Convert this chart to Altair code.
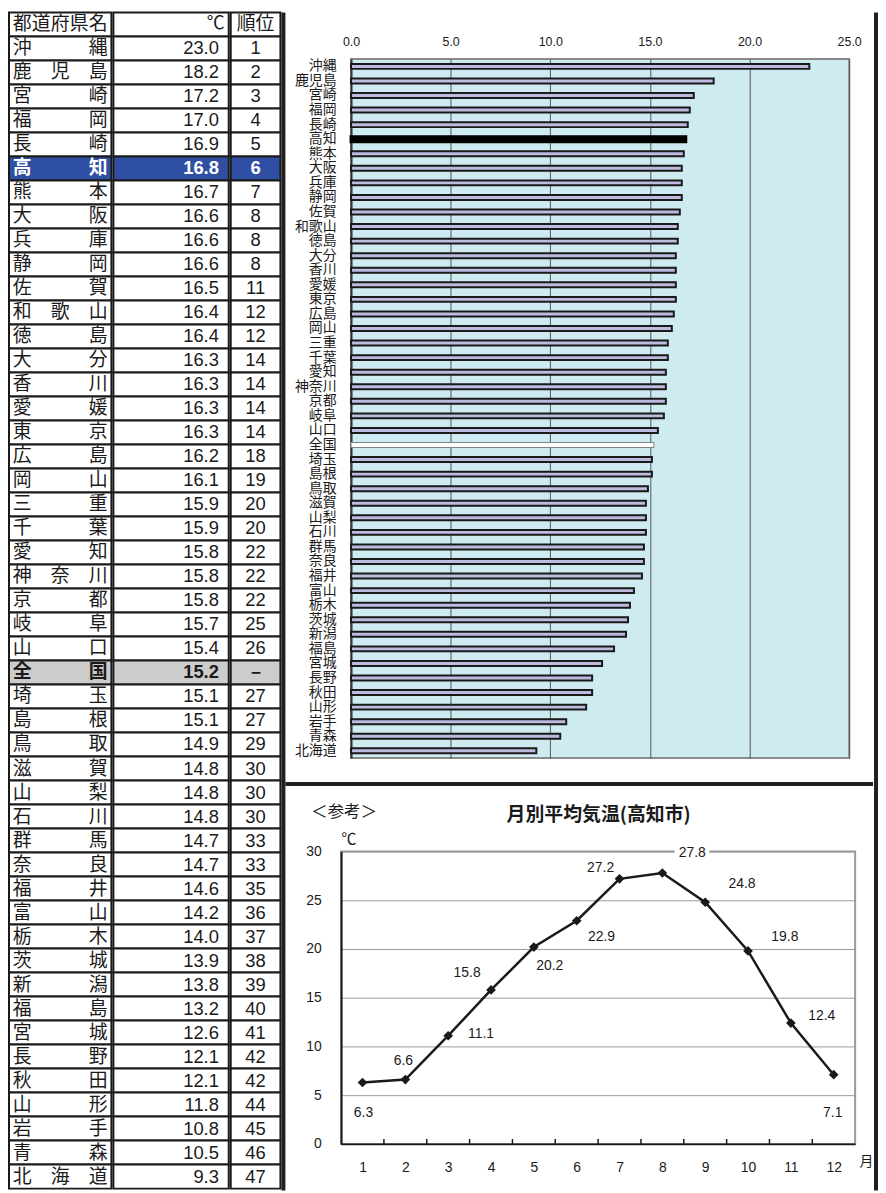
import altair as alt
import pandas as pd

# ---------------- data ----------------
prefs = ["沖縄", "鹿児島", "宮崎", "福岡", "長崎", "高知", "熊本", "大阪", "兵庫", "静岡",
         "佐賀", "和歌山", "徳島", "大分", "香川", "愛媛", "東京", "広島", "岡山", "三重",
         "千葉", "愛知", "神奈川", "京都", "岐阜", "山口", "全国", "埼玉", "島根", "鳥取",
         "滋賀", "山梨", "石川", "群馬", "奈良", "福井", "富山", "栃木", "茨城", "新潟",
         "福島", "宮城", "長野", "秋田", "山形", "岩手", "青森", "北海道"]
temps = [23.0, 18.2, 17.2, 17.0, 16.9, 16.8, 16.7, 16.6, 16.6, 16.6,
         16.5, 16.4, 16.4, 16.3, 16.3, 16.3, 16.3, 16.2, 16.1, 15.9,
         15.9, 15.8, 15.8, 15.8, 15.7, 15.4, 15.2, 15.1, 15.1, 14.9,
         14.8, 14.8, 14.8, 14.7, 14.7, 14.6, 14.2, 14.0, 13.9, 13.8,
         13.2, 12.6, 12.1, 12.1, 11.8, 10.8, 10.5, 9.3]
ranks = ["1", "2", "3", "4", "5", "6", "7", "8", "8", "8",
         "11", "12", "12", "14", "14", "14", "14", "18", "19", "20",
         "20", "22", "22", "22", "25", "26", "－", "27", "27", "29",
         "30", "30", "30", "33", "33", "35", "36", "37", "38", "39",
         "40", "41", "42", "42", "44", "45", "46", "47"]
header_name = "都道府県名"
header_value = "℃"
header_rank = "順位"

bar_ticks = [0, 5, 10, 15, 20, 25]

months = list(range(1, 13))
kochi_monthly = [6.3, 6.6, 11.1, 15.8, 20.2, 22.9, 27.2, 27.8, 24.8, 19.8, 12.4, 7.1]
line_ticks = [0, 5, 10, 15, 20, 25, 30]
line_title = "月別平均気温(高知市)"
ref_note = "＜参考＞"

HIGHLIGHT = "高知"
NATIONAL = "全国"
HALO_MONTH = 8  # label that sits on the top border with a white background

# ---------------- styles ----------------
JP = "Noto Sans CJK JP"
NUM = "Liberation Sans, Arial, sans-serif"
INK = "#1a1a1a"
FRAME = "#231f20"
LAV = "#bcbbe0"
PLOT_BG = "#cdebf0"

TABLE_H = 1183
COL_W = [103, 116, 50]
# per-month label offsets (dx, dy) in pixels
LABEL_OFFSETS = {1: (1, 31), 2: (-2, -19), 3: (33, -2), 4: (-24, -17), 5: (16, 19), 6: (25, 16),
                 7: (-19, -11), 8: (30, -20), 9: (37, -18), 10: (37, -14), 11: (31, -7), 12: (-1, 39)}


def blank(w, h, fill=None):
    view = alt.ViewBackground(fill=fill, strokeWidth=0) if fill else alt.ViewBackground(strokeWidth=0)
    return alt.Chart(pd.DataFrame({"v": [0]})).mark_rect(opacity=0).encode(
        x=alt.value(0), x2=alt.value(0), y=alt.value(0), y2=alt.value(0)
    ).properties(width=w, height=h, view=view)


# ---------------- table ----------------
kinds = ["header"] + ["kochi" if p == HIGHLIGHT else "national" if p == NATIONAL else "normal" for p in prefs]
rows = list(range(len(kinds)))
cells_df = pd.DataFrame({"row": rows, "kind": kinds})

row_y = alt.Y("row:O", scale=alt.Scale(domain=rows, paddingInner=0, paddingOuter=0), axis=None)
col_scale = alt.Scale(domain=[0, 1], nice=False, zero=False)
kind_dom = ["header", "normal", "kochi", "national"]
fill_scale = alt.Scale(domain=kind_dom, range=["#ffffff", "#ffffff", "#2e4fa3", "#cccccc"])
txt_scale = alt.Scale(domain=kind_dom, range=[INK, INK, "#ffffff", INK])


def table_column(text_df, width, align, head_font, head_size, body_font, body_size):
    cells = alt.Chart(cells_df).mark_rect(stroke=INK, strokeWidth=2).encode(
        y=row_y,
        x=alt.XDatum(0, type="quantitative", scale=col_scale, axis=None),
        x2=alt.datum(1),
        fill=alt.Fill("kind:N", scale=fill_scale, legend=None),
    )
    base = alt.Chart(text_df).encode(
        y=row_y,
        x=alt.X("pos:Q", scale=col_scale, axis=None),
        text="txt:N",
        color=alt.Color("kind:N", scale=txt_scale, legend=None),
    )
    head = base.transform_filter(alt.FieldEqualPredicate(field="kind", equal="header")).mark_text(
        align=align, baseline="middle", font=head_font, fontSize=head_size)
    plain = base.transform_filter(alt.FieldEqualPredicate(field="kind", equal="normal")).mark_text(
        align=align, baseline="middle", font=body_font, fontSize=body_size)
    bold = base.transform_filter(alt.FieldOneOfPredicate(field="kind", oneOf=["kochi", "national"])).mark_text(
        align=align, baseline="middle", font=body_font, fontSize=body_size, fontWeight="bold")
    return alt.layer(cells, head, plain, bold).properties(
        width=width, height=TABLE_H, view=alt.ViewBackground(strokeWidth=0))


# names: characters spread over the cell
name_recs = []
for r, label in enumerate([header_name] + prefs):
    n = len(label)
    for i, ch in enumerate(label):
        name_recs.append({"row": r, "pos": 0.13 + 0.74 * i / (n - 1), "txt": ch, "kind": kinds[r]})
name_df = pd.DataFrame(name_recs)

val_df = pd.DataFrame({
    "row": rows,
    "pos": [0.965] + [0.915] * len(temps),
    "txt": [header_value] + [f"{t:.1f}" for t in temps],
    "kind": kinds,
})
rank_df = pd.DataFrame({"row": rows, "pos": [0.5] * len(rows), "txt": [header_rank] + ranks, "kind": kinds})

name_col = table_column(name_df, COL_W[0], "center", JP, 19, JP, 19)
val_col = table_column(val_df, COL_W[1], "right", JP, 18, NUM, 18.5)
rank_col = table_column(rank_df, COL_W[2], "center", JP, 19, NUM, 18.5)
table = alt.hconcat(name_col, val_col, rank_col, spacing=0)

# ---------------- bar chart ----------------
bar_df = pd.DataFrame({"pref": prefs, "temp": temps, "kind": kinds[1:]})
bar_base = alt.Chart(bar_df).encode(
    y=alt.Y("pref:N", scale=alt.Scale(domain=prefs, paddingInner=0.66, paddingOuter=0.33),
            axis=alt.Axis(title=None, ticks=False, domain=True, domainColor="#333333", domainWidth=2,
                          labelFont=JP, labelFontSize=14, labelPadding=15, labelColor=INK,
                          labelOverlap=False, labelBaseline="middle")),
    x=alt.X("temp:Q", scale=alt.Scale(domain=[0, 25], nice=False, zero=True),
            axis=alt.Axis(orient="top", values=bar_ticks, format=".1f", title=None, ticks=False,
                          domain=False, grid=True, gridColor="#555555", gridWidth=1,
                          labelFont=NUM, labelFontSize=12.5, labelColor=INK, labelPadding=11,
                          labelFlush=False)),
)
bars_normal = bar_base.transform_filter(alt.FieldEqualPredicate(field="kind", equal="normal")).mark_bar(
    fill=LAV, stroke=INK, strokeWidth=2)
bars_kochi = bar_base.transform_filter(alt.FieldEqualPredicate(field="kind", equal="kochi")).mark_bar(
    fill="#000000", stroke="#000000", strokeWidth=3)
bars_nat = bar_base.transform_filter(alt.FieldEqualPredicate(field="kind", equal="national")).mark_bar(
    fill="#ffffff", stroke="#808080", strokeWidth=1)
bar_chart = alt.layer(bars_normal, bars_kochi, bars_nat).properties(
    width=501, height=703, view=alt.ViewBackground(fill=PLOT_BG, stroke="#8a8a8a", strokeWidth=2))

# ---------------- line chart ----------------
mdf = pd.DataFrame({"month": months, "temp": kochi_monthly})
lx = alt.X("month:Q", scale=alt.Scale(domain=[0.5, 12.5], nice=False, zero=False),
           axis=alt.Axis(values=months, format="d", ticks=False, grid=False, domainColor=INK, domainWidth=2,
                         labelFont=NUM, labelFontSize=14, labelColor=INK, labelPadding=17, labelFlush=False,
                         title="月", titleFont=JP, titleFontSize=14, titleFontWeight="normal", titleColor=INK,
                         titleAngle=0, titleX=521, titleY=18, titleAlign="left", titleBaseline="middle"))
ly = alt.Y("temp:Q", scale=alt.Scale(domain=[0, 30], nice=False),
           axis=alt.Axis(values=line_ticks, ticks=False, grid=True, gridColor="#9a9a9a", gridWidth=1,
                         domainColor=INK, domainWidth=2, labelFont=NUM, labelFontSize=14, labelColor=INK,
                         labelPadding=20, labelFlush=False,
                         title="℃", titleFont=JP, titleFontSize=15, titleFontWeight="normal", titleColor=INK,
                         titleAngle=0, titleX=0, titleY=-13, titleAlign="left", titleBaseline="middle"))

line = alt.Chart(mdf).mark_line(color=INK, strokeWidth=2.5).encode(x=lx, y=ly)
pts = alt.Chart(mdf).mark_point(shape="diamond", filled=True, color=INK, size=95, opacity=1).encode(
    x="month:Q", y="temp:Q")
bounds_df = pd.DataFrame({"b": [m + 0.5 for m in months[:-1]]})
inticks = alt.Chart(bounds_df).mark_rule(color=INK, strokeWidth=1.5).encode(
    x="b:Q", y=alt.datum(0), y2=alt.datum(0.5))

label_layers = []
for m, (dx, dy) in LABEL_OFFSETS.items():
    sel = alt.Chart(mdf).transform_filter(alt.datum.month == m)
    enc = dict(x="month:Q", y="temp:Q", text=alt.Text("temp:Q", format=".1f"))
    if m == HALO_MONTH:
        label_layers.append(sel.mark_text(
            dx=dx, dy=dy, font=NUM, fontSize=14, color="white", stroke="white", strokeWidth=9,
            align="center", baseline="middle").encode(**enc))
    label_layers.append(sel.mark_text(
        dx=dx, dy=dy, font=NUM, fontSize=14, color=INK, align="center", baseline="middle").encode(**enc))

title_mark = alt.Chart(pd.DataFrame({"t": [line_title]})).mark_text(
    font=JP, fontSize=19, fontWeight="bold", color=INK, align="center", baseline="middle"
).encode(text="t:N", x=alt.value(259), y=alt.value(-37))
note_mark = alt.Chart(pd.DataFrame({"t": [ref_note]})).mark_text(
    font=JP, fontSize=16.5, color=INK, align="left", baseline="middle"
).encode(text="t:N", x=alt.value(-30), y=alt.value(-40))

line_chart = alt.layer(line, inticks, pts, *label_layers, title_mark, note_mark).properties(
    width=517, height=294, view=alt.ViewBackground(fill="white", stroke="#9a9a9a", strokeWidth=2))

# ---------------- layout ----------------
bar_row = alt.hconcat(blank(8, 1), bar_chart, spacing=0)
line_row = alt.hconcat(blank(19, 1), line_chart, spacing=0)
right = alt.vconcat(blank(1, 22), bar_row, blank(1, 23), blank(591, 4, FRAME), blank(1, 17), line_row,
                    spacing=0)

FULL_H = TABLE_H + 2
chart = alt.hconcat(table, blank(4, FULL_H, FRAME), right, blank(4, FULL_H, FRAME), spacing=0).properties(
    padding=0
).configure_view(strokeWidth=0).configure(background="white")

chart.save("out.html", embed_options={"renderer": "svg", "actions": False})
